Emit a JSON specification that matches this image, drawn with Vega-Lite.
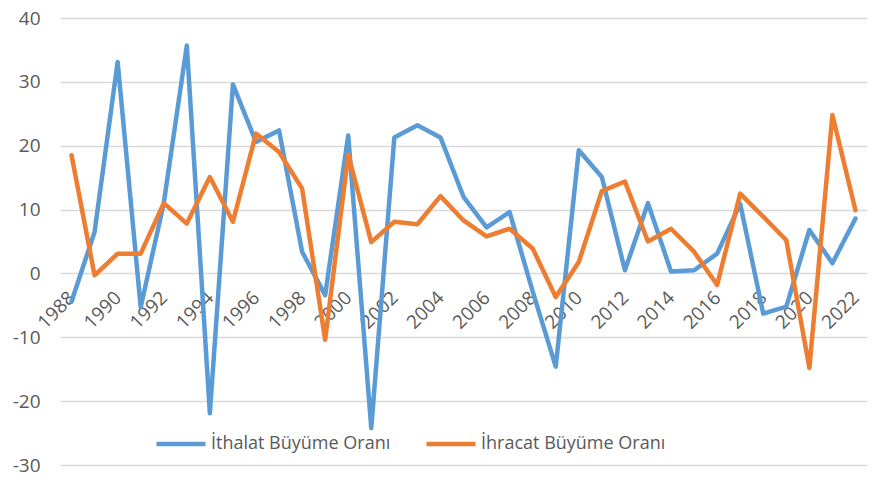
{
  "$schema": "https://vega.github.io/schema/vega-lite/v6.json",
  "width": 807,
  "height": 447,
  "autosize": {"type": "none"},
  "padding": {"left": 60, "top": 18, "right": 16, "bottom": 17},
  "background": "white",
  "config": {
    "view": {"stroke": null},
    "font": "Open Sans",
    "axis": {"labelFont": "Open Sans", "labelFontSize": 19, "labelColor": "#595959"},
    "legend": {"labelFont": "Open Sans", "labelFontSize": 18, "labelColor": "#595959"}
  },
  "datasets": {
    "rows": [
      {"year": 1988, "series": "İthalat Büyüme Oranı", "value": -4.4},
      {"year": 1989, "series": "İthalat Büyüme Oranı", "value": 6.5},
      {"year": 1990, "series": "İthalat Büyüme Oranı", "value": 33.1},
      {"year": 1991, "series": "İthalat Büyüme Oranı", "value": -5.3},
      {"year": 1992, "series": "İthalat Büyüme Oranı", "value": 11.0},
      {"year": 1993, "series": "İthalat Büyüme Oranı", "value": 35.7},
      {"year": 1994, "series": "İthalat Büyüme Oranı", "value": -21.9},
      {"year": 1995, "series": "İthalat Büyüme Oranı", "value": 29.6},
      {"year": 1996, "series": "İthalat Büyüme Oranı", "value": 20.6},
      {"year": 1997, "series": "İthalat Büyüme Oranı", "value": 22.4},
      {"year": 1998, "series": "İthalat Büyüme Oranı", "value": 3.4},
      {"year": 1999, "series": "İthalat Büyüme Oranı", "value": -3.4},
      {"year": 2000, "series": "İthalat Büyüme Oranı", "value": 21.6},
      {"year": 2001, "series": "İthalat Büyüme Oranı", "value": -24.2},
      {"year": 2002, "series": "İthalat Büyüme Oranı", "value": 21.3},
      {"year": 2003, "series": "İthalat Büyüme Oranı", "value": 23.2},
      {"year": 2004, "series": "İthalat Büyüme Oranı", "value": 21.3},
      {"year": 2005, "series": "İthalat Büyüme Oranı", "value": 12.0},
      {"year": 2006, "series": "İthalat Büyüme Oranı", "value": 7.2},
      {"year": 2007, "series": "İthalat Büyüme Oranı", "value": 9.6},
      {"year": 2008, "series": "İthalat Büyüme Oranı", "value": -2.8},
      {"year": 2009, "series": "İthalat Büyüme Oranı", "value": -14.6},
      {"year": 2010, "series": "İthalat Büyüme Oranı", "value": 19.3},
      {"year": 2011, "series": "İthalat Büyüme Oranı", "value": 15.1},
      {"year": 2012, "series": "İthalat Büyüme Oranı", "value": 0.5},
      {"year": 2013, "series": "İthalat Büyüme Oranı", "value": 11.0},
      {"year": 2014, "series": "İthalat Büyüme Oranı", "value": 0.3},
      {"year": 2015, "series": "İthalat Büyüme Oranı", "value": 0.5},
      {"year": 2016, "series": "İthalat Büyüme Oranı", "value": 3.1},
      {"year": 2017, "series": "İthalat Büyüme Oranı", "value": 10.9},
      {"year": 2018, "series": "İthalat Büyüme Oranı", "value": -6.3},
      {"year": 2019, "series": "İthalat Büyüme Oranı", "value": -5.2},
      {"year": 2020, "series": "İthalat Büyüme Oranı", "value": 6.8},
      {"year": 2021, "series": "İthalat Büyüme Oranı", "value": 1.6},
      {"year": 2022, "series": "İthalat Büyüme Oranı", "value": 8.6},
      {"year": 1988, "series": "İhracat Büyüme Oranı", "value": 18.5},
      {"year": 1989, "series": "İhracat Büyüme Oranı", "value": -0.3},
      {"year": 1990, "series": "İhracat Büyüme Oranı", "value": 3.1},
      {"year": 1991, "series": "İhracat Büyüme Oranı", "value": 3.1},
      {"year": 1992, "series": "İhracat Büyüme Oranı", "value": 11.0},
      {"year": 1993, "series": "İhracat Büyüme Oranı", "value": 7.8},
      {"year": 1994, "series": "İhracat Büyüme Oranı", "value": 15.1},
      {"year": 1995, "series": "İhracat Büyüme Oranı", "value": 8.1},
      {"year": 1996, "series": "İhracat Büyüme Oranı", "value": 21.9},
      {"year": 1997, "series": "İhracat Büyüme Oranı", "value": 19.0},
      {"year": 1998, "series": "İhracat Büyüme Oranı", "value": 13.3},
      {"year": 1999, "series": "İhracat Büyüme Oranı", "value": -10.4},
      {"year": 2000, "series": "İhracat Büyüme Oranı", "value": 18.6},
      {"year": 2001, "series": "İhracat Büyüme Oranı", "value": 4.9},
      {"year": 2002, "series": "İhracat Büyüme Oranı", "value": 8.1},
      {"year": 2003, "series": "İhracat Büyüme Oranı", "value": 7.7},
      {"year": 2004, "series": "İhracat Büyüme Oranı", "value": 12.1},
      {"year": 2005, "series": "İhracat Büyüme Oranı", "value": 8.3},
      {"year": 2006, "series": "İhracat Büyüme Oranı", "value": 5.8},
      {"year": 2007, "series": "İhracat Büyüme Oranı", "value": 7.0},
      {"year": 2008, "series": "İhracat Büyüme Oranı", "value": 3.9},
      {"year": 2009, "series": "İhracat Büyüme Oranı", "value": -3.7},
      {"year": 2010, "series": "İhracat Büyüme Oranı", "value": 1.8},
      {"year": 2011, "series": "İhracat Büyüme Oranı", "value": 12.9},
      {"year": 2012, "series": "İhracat Büyüme Oranı", "value": 14.4},
      {"year": 2013, "series": "İhracat Büyüme Oranı", "value": 5.0},
      {"year": 2014, "series": "İhracat Büyüme Oranı", "value": 7.0},
      {"year": 2015, "series": "İhracat Büyüme Oranı", "value": 3.4},
      {"year": 2016, "series": "İhracat Büyüme Oranı", "value": -1.8},
      {"year": 2017, "series": "İhracat Büyüme Oranı", "value": 12.5},
      {"year": 2018, "series": "İhracat Büyüme Oranı", "value": 8.9},
      {"year": 2019, "series": "İhracat Büyüme Oranı", "value": 5.2},
      {"year": 2020, "series": "İhracat Büyüme Oranı", "value": -14.8},
      {"year": 2021, "series": "İhracat Büyüme Oranı", "value": 24.8},
      {"year": 2022, "series": "İhracat Büyüme Oranı", "value": 9.9}
    ]
  },
  "data": {"name": "rows"},
  "mark": {"type": "line", "strokeWidth": 4.5, "strokeCap": "round", "strokeJoin": "round"},
  "encoding": {
    "x": {
      "field": "year",
      "type": "quantitative",
      "scale": {"domain": [1987.5, 2022.5], "nice": false, "zero": false},
      "axis": {
        "title": null,
        "values": [1988, 1990, 1992, 1994, 1996, 1998, 2000, 2002, 2004, 2006, 2008, 2010, 2012, 2014, 2016, 2018, 2020, 2022],
        "labelExpr": "toString(datum.value)",
        "grid": false,
        "domain": false,
        "ticks": false,
        "labelAngle": -45,
        "labelAlign": "right",
        "labelBaseline": "middle",
        "labelPadding": 21,
        "labelFlush": false,
        "labelOverlap": false,
        "offset": -191.6
      }
    },
    "y": {
      "field": "value",
      "type": "quantitative",
      "scale": {"domain": [-30, 40], "nice": false},
      "axis": {
        "title": null,
        "values": [-30, -20, -10, 0, 10, 20, 30, 40],
        "labelExpr": "toString(datum.value)",
        "grid": true,
        "gridColor": "#D9D9D9",
        "gridWidth": 1.5,
        "domain": false,
        "ticks": false,
        "labelPadding": 20
      }
    },
    "color": {
      "field": "series",
      "type": "nominal",
      "sort": null,
      "scale": {"domain": ["İthalat Büyüme Oranı", "İhracat Büyüme Oranı"], "range": ["#5B9BD5", "#ED7D31"]},
      "legend": {
        "title": null,
        "orient": "none",
        "direction": "horizontal",
        "legendX": 94,
        "legendY": 399,
        "symbolType": "stroke",
        "symbolSize": 2401,
        "symbolStrokeWidth": 4.5,
        "labelOffset": 3,
        "columnPadding": 26,
        "labelLimit": 400
      }
    }
  }
}
